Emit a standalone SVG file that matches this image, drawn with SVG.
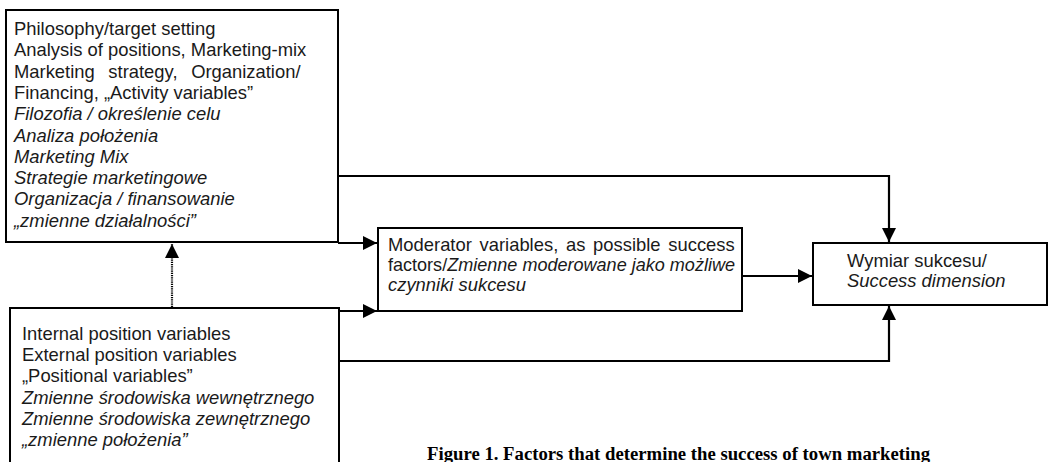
<svg xmlns="http://www.w3.org/2000/svg" width="1049" height="462" viewBox="0 0 1049 462">
<defs>
<style>
.box{fill:#fff;stroke:#000;stroke-width:2}
.t{font-family:"Liberation Sans",Arial,sans-serif;font-size:18.4px;fill:#1a1a1a}
.i{font-style:italic}
.c{fill:none;stroke:#000;stroke-width:2.2}
.d{fill:none;stroke:#000;stroke-width:2.2;stroke-dasharray:1.2 1}
.cap{font-family:"Liberation Serif","Times New Roman",serif;font-size:18.7px;font-weight:bold;fill:#000}
</style>
<marker id="ah" viewBox="0 0 14 14" refX="14" refY="7" markerWidth="14" markerHeight="14" markerUnits="userSpaceOnUse" orient="auto">
<path d="M0,0 L14,7 L0,14 Z" fill="#000"/>
</marker>
</defs>
<rect width="1049" height="462" fill="#fff"/>
<g id="connectors">
<path class="c" d="M338,176 H889 V242" marker-end="url(#ah)"/>
<path class="c" d="M338,243 H377" marker-end="url(#ah)"/>
<path class="c" d="M339,311 H377" marker-end="url(#ah)"/>
<path class="c" d="M742,276 H812" marker-end="url(#ah)"/>
<path class="c" d="M339,361 H889 V306" marker-end="url(#ah)"/>
<path class="d" d="M172,307 V244" marker-end="url(#ah)"/>
</g>
<g id="activity">
<rect class="box" x="6" y="10" width="332" height="232"/>
<text class="t" x="14" y="35">Philosophy/target setting</text>
<text class="t" x="14" y="56.3">Analysis of positions, Marketing-mix</text>
<text class="t" x="14" y="77.6" word-spacing="8.5">Marketing strategy, Organization/</text>
<text class="t" x="14" y="98.9">Financing, „Activity variables”</text>
<text class="t i" x="14" y="120.2">Filozofia / określenie celu</text>
<text class="t i" x="14" y="141.5">Analiza położenia</text>
<text class="t i" x="14" y="162.8">Marketing Mix</text>
<text class="t i" x="14" y="184.1">Strategie marketingowe</text>
<text class="t i" x="14" y="205.4">Organizacja / finansowanie</text>
<text class="t i" x="14" y="226.7">„zmienne działalności”</text>
</g>
<g id="positional">
<rect class="box" x="10" y="308" width="329" height="170"/>
<text class="t" x="22" y="340">Internal position variables</text>
<text class="t" x="22" y="361.2">External position variables</text>
<text class="t" x="22" y="382.4">„Positional variables”</text>
<text class="t i" x="22" y="403.6">Zmienne środowiska wewnętrznego</text>
<text class="t i" x="22" y="424.8">Zmienne środowiska zewnętrznego</text>
<text class="t i" x="22" y="446">„zmienne położenia”</text>
</g>
<g id="moderator">
<rect class="box" x="378" y="228" width="364" height="83"/>
<text class="t" x="388" y="251" word-spacing="2.6">Moderator variables, as possible success</text>
<text class="t" x="388" y="271" textLength="347" lengthAdjust="spacingAndGlyphs">factors/<tspan class="i">Zmienne moderowane jako możliwe</tspan></text>
<text class="t i" x="388" y="291">czynniki sukcesu</text>
</g>
<g id="success">
<rect class="box" x="813" y="243" width="234" height="62"/>
<text class="t" x="847" y="267">Wymiar sukcesu/</text>
<text class="t i" x="847" y="287">Success dimension</text>
</g>
<text class="cap" x="427" y="459.5" textLength="503" lengthAdjust="spacingAndGlyphs">Figure 1. Factors that determine the success of town marketing</text>
</svg>
